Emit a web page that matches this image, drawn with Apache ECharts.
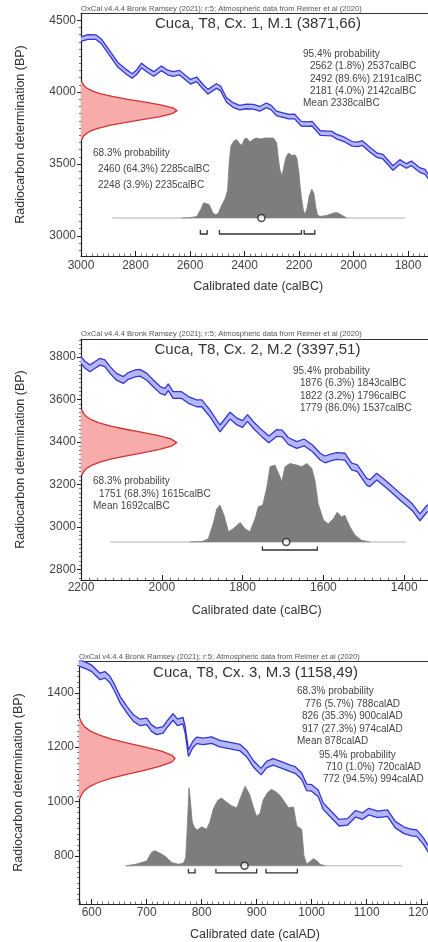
<!DOCTYPE html>
<html><head><meta charset="utf-8">
<script src="https://cdn.jsdelivr.net/npm/echarts@6/dist/echarts.min.js"></script>
<style>html,body{margin:0;padding:0;background:#fff;overflow:hidden}#c{width:470px;height:942px}</style>
</head><body><div id="c"></div>
<script>
// ===================== DATA =====================
// ---- Panel 1 : Cuca, T8, Cx. 1, M.1 (3871,66) — years calBC ----
const title1 = 'Cuca, T8, Cx. 1, M.1 (3871,66)';
const xTicks1 = [3000, 2800, 2600, 2400, 2200, 2000, 1800];
const yTicks1 = [3000, 3500, 4000, 4500];
const curve1Years = [3000, 2975, 2945, 2925, 2895, 2865, 2835, 2812, 2795, 2778, 2755, 2733, 2705, 2682, 2662, 2638, 2614, 2598, 2576, 2552, 2534, 2503, 2488, 2466, 2442, 2418, 2393, 2368, 2344, 2320, 2302, 2283, 2259, 2237, 2216, 2192, 2168, 2152, 2122, 2098, 2080, 2062, 2035, 2005, 1985, 1968, 1940, 1915, 1892, 1855, 1830, 1806, 1787, 1757, 1738, 1725, 1700];
const curve1BP = [4368, 4383, 4382, 4352, 4272, 4190, 4142, 4112, 4140, 4185, 4152, 4126, 4165, 4136, 4126, 4135, 4096, 4072, 4089, 4037, 4003, 4042, 4026, 3945, 3910, 3892, 3900, 3898, 3884, 3908, 3892, 3852, 3840, 3829, 3830, 3780, 3777, 3780, 3715, 3713, 3712, 3690, 3672, 3640, 3636, 3646, 3600, 3562, 3551, 3472, 3514, 3486, 3504, 3458, 3446, 3412, 3380];
const curve1Sigma = 16;
const radio1BP = [4070, 4050, 4030, 4010, 3990, 3970, 3950, 3930, 3910, 3890, 3871, 3850, 3830, 3810, 3790, 3770, 3750, 3730, 3710, 3690, 3670];
const radio1Dens = [0.011, 0.025, 0.055, 0.109, 0.197, 0.325, 0.489, 0.670, 0.840, 0.959, 1.000, 0.951, 0.825, 0.652, 0.471, 0.310, 0.186, 0.102, 0.051, 0.023, 0.010];
const post1Years = [2630, 2600, 2575, 2560, 2550, 2543, 2530, 2515, 2505, 2496, 2485, 2470, 2462, 2456, 2450, 2440, 2429, 2418, 2410, 2400, 2392, 2380, 2374, 2365, 2355, 2345, 2337, 2325, 2310, 2294, 2288, 2282, 2276, 2270, 2262, 2258, 2250, 2245, 2238, 2233, 2225, 2215, 2208, 2200, 2196, 2190, 2184, 2178, 2170, 2162, 2153, 2145, 2138, 2132, 2123, 2100, 2075, 2062, 2050, 2035, 2025];
const post1Prob = [0, 0.4, 1.9, 11, 19, 21, 17, 6, 4, 6, 15, 25, 35, 69, 90, 96, 98, 93, 91, 99, 100, 95, 94, 99, 100, 99, 99, 100, 100, 100, 98, 94, 75, 60, 53, 53, 73, 78, 81, 83, 78, 79, 75, 56, 40, 23, 10, 4, 13, 28, 36, 30, 13, 4, 2, 3, 6, 7, 5, 2, 0];
const post1Span = [2886, 1811];
const ranges1 = [[2562, 2537], [2492, 2191], [2181, 2142]];
const mean1 = 2338;
const info1Right = ['95.4% probability', '2562 (1.8%) 2537calBC', '2492 (89.6%) 2191calBC', '2181 (4.0%) 2142calBC', 'Mean 2338calBC'];
const info1Left = ['68.3% probability', '2460 (64.3%) 2285calBC', '2248 (3.9%) 2235calBC'];

// ---- Panel 2 : Cuca, T8, Cx. 2, M.2 (3397,51) — years calBC ----
const title2 = 'Cuca, T8, Cx. 2, M.2 (3397,51)';
const xTicks2 = [2200, 2000, 1800, 1600, 1400];
const yTicks2 = [2800, 3000, 3200, 3400, 3600, 3800];
const curve2Years = [2200, 2190, 2178, 2165, 2153, 2141, 2128, 2112, 2095, 2083, 2066, 2054, 2037, 2021, 2004, 1992, 1984, 1972, 1951, 1934, 1914, 1901, 1881, 1856, 1831, 1813, 1800, 1788, 1772, 1752, 1735, 1716, 1702, 1687, 1666, 1648, 1627, 1608, 1596, 1580, 1567, 1547, 1530, 1516, 1493, 1485, 1468, 1443, 1410, 1381, 1361, 1344, 1330];
const curve2BP = [3786, 3763, 3747, 3763, 3778, 3771, 3739, 3707, 3692, 3711, 3723, 3726, 3707, 3676, 3645, 3637, 3658, 3621, 3621, 3598, 3582, 3582, 3535, 3464, 3524, 3495, 3485, 3513, 3477, 3440, 3412, 3442, 3440, 3405, 3386, 3398, 3370, 3331, 3318, 3328, 3334, 3331, 3285, 3276, 3213, 3206, 3237, 3198, 3142, 3095, 3045, 3085, 3100];
const curve2Sigma = 16;
const radio2BP = [3550, 3535, 3520, 3505, 3490, 3475, 3460, 3445, 3430, 3415, 3397, 3380, 3365, 3350, 3335, 3320, 3305, 3290, 3275, 3260, 3245];
const radio2Dens = [0.011, 0.026, 0.055, 0.106, 0.190, 0.311, 0.466, 0.642, 0.811, 0.940, 1.000, 0.946, 0.821, 0.654, 0.478, 0.320, 0.197, 0.111, 0.057, 0.027, 0.012];
const post2Years = [1930, 1900, 1885, 1873, 1864, 1856, 1846, 1835, 1823, 1806, 1794, 1782, 1769, 1761, 1750, 1740, 1732, 1720, 1709, 1703, 1695, 1683, 1666, 1654, 1641, 1629, 1621, 1613, 1600, 1588, 1575, 1566, 1555, 1547, 1534, 1522, 1505, 1485];
const post2Prob = [0, 0.5, 4, 23, 42, 47, 34, 13, 17, 25, 17, 13, 30, 45, 47, 70, 96, 98, 85, 77, 96, 100, 98, 96, 100, 94, 79, 49, 28, 23, 30, 38, 32, 34, 19, 9, 2, 0];
const post2Span = [2128, 1396];
const ranges2 = [[1751, 1615]];
const mean2 = 1692;
const info2Right = ['95.4% probability', '1876 (6.3%) 1843calBC', '1822 (3.2%) 1796calBC', '1779 (86.0%) 1537calBC'];
const info2Left = ['68.3% probability', '1751 (68.3%) 1615calBC', 'Mean 1692calBC'];

// ---- Panel 3 : Cuca, T8, Cx. 3, M.3 (1158,49) — years calAD ----
const title3 = 'Cuca, T8, Cx. 3, M.3 (1158,49)';
const xTicks3 = [600, 700, 800, 900, 1000, 1100, 1200];
const yTicks3 = [800, 1000, 1200, 1400];
const curve3Years = [577, 591, 600, 609, 615, 624, 633, 642, 652, 664, 676, 688, 700, 709, 718, 730, 739, 748, 756, 766, 770, 776, 784, 791, 803, 818, 833, 852, 870, 882, 894, 908, 918, 930, 946, 961, 970, 982, 991, 1000, 1012, 1021, 1039, 1050, 1065, 1080, 1092, 1104, 1120, 1138, 1152, 1168, 1182, 1191, 1203, 1212, 1217];
const curve3BP = [1510, 1499, 1490, 1472, 1460, 1466, 1450, 1417, 1374, 1338, 1307, 1291, 1295, 1270, 1258, 1264, 1289, 1311, 1291, 1298, 1264, 1178, 1210, 1225, 1221, 1226, 1213, 1206, 1198, 1176, 1139, 1110, 1136, 1146, 1134, 1122, 1116, 1093, 1052, 1050, 1030, 983, 945, 922, 925, 955, 946, 963, 953, 957, 915, 894, 886, 884, 855, 826, 815];
const curve3Sigma = 12;
const radio3BP = [1305, 1290, 1275, 1260, 1245, 1230, 1215, 1200, 1185, 1170, 1158, 1145, 1130, 1115, 1100, 1085, 1070, 1055, 1040, 1025, 1011];
const radio3Dens = [0.011, 0.027, 0.058, 0.115, 0.207, 0.340, 0.508, 0.693, 0.859, 0.970, 1.000, 0.965, 0.849, 0.680, 0.496, 0.330, 0.199, 0.110, 0.055, 0.025, 0.011];
const post3Years = [662, 680, 700, 709, 715, 724, 733, 746, 758, 767, 771, 774, 777, 779, 783, 787, 792, 800, 809, 815, 821, 829, 836, 845, 855, 864, 872, 879, 887, 894, 900, 906, 912, 920, 927, 935, 943, 950, 958, 967, 973, 982, 986, 991, 1003, 1010, 1015, 1024];
const post3Prob = [0, 2, 6, 17, 19, 16, 12.5, 4, 2, 3.5, 10, 50, 98, 85, 55, 48, 45, 49, 46, 55, 71, 82, 85, 80, 75, 73, 88, 100, 90, 74, 62, 66, 83, 92, 96, 93, 88, 81, 73, 74, 50, 46, 13, 2, 9, 6, 2, 0];
const post3Span = [662, 1164];
const ranges3 = [[776, 788], [826, 900], [917, 974]];
const mean3 = 878;
const info3Right = ['68.3% probability', '776 (5.7%) 788calAD', '826 (35.3%) 900calAD', '917 (27.3%) 974calAD', 'Mean 878calAD', '95.4% probability', '710 (1.0%) 720calAD', '772 (94.5%) 994calAD'];

const header = 'OxCal v4.4.4 Bronk Ramsey (2021); r:5; Atmospheric data from Reimer et al (2020)';

// ===================== LAYOUT / STYLE =====================
const FONT = '"Liberation Sans", Arial, Helvetica, sans-serif';
const panels = [
  { era: 'BC', title: title1, xTicks: xTicks1, yTicks: yTicks1, cy: curve1Years, cb: curve1BP, sig: curve1Sigma,
    rb: radio1BP, rd: radio1Dens, py: post1Years, pp: post1Prob, span: post1Span, ranges: ranges1, mean: mean1,
    grid: { left: 81, top: 13, width: 354.25, height: 243 }, xMin: -3000, xMax: -1700, xInt: 200,
    yMin: 2860, yMax: 4550, yInt: 500, pMin: -47.5, pMax: 256.3, dMax: 3.69, brY: -20, brT: -15,
    xLabMargin: 4, titleX: 258, titleY: 24, headY: 9,
    right: { lines: info1Right, x: [303, 310, 310, 310, 303], y: [54, 66.5, 79, 91, 103.3] },
    left: { lines: info1Left, x: [93, 98, 98], y: [153.5, 169, 185] } },
  { era: 'BC', title: title2, xTicks: xTicks2, yTicks: yTicks2, cy: curve2Years, cb: curve2BP, sig: curve2Sigma,
    rb: radio2BP, rd: radio2Dens, py: post2Years, pp: post2Prob, span: post2Span, ranges: ranges2, mean: mean2,
    grid: { left: 81, top: 339, width: 351.5, height: 241 }, xMin: -2200, xMax: -1330, xInt: 200,
    yMin: 2750, yMax: 3885, yInt: 200, pMin: -48.4, pMax: 258.6, dMax: 3.673, brY: -10.2, brT: -5.8,
    xLabMargin: 2, titleX: 257.5, titleY: 350, headY: 334,
    right: { lines: info2Right, x: [293, 300, 300, 300], y: [371, 383.3, 396, 408.3] },
    left: { lines: info2Left, x: [93, 99, 93], y: [481.5, 494, 506] } },
  { era: 'AD', title: title3, xTicks: xTicks3, yTicks: yTicks3, cy: curve3Years, cb: curve3BP, sig: curve3Sigma,
    rb: radio3BP, rd: radio3Dens, py: post3Years, pp: post3Prob, span: post3Span, ranges: ranges3, mean: mean3,
    grid: { left: 79, top: 661, width: 352, height: 244 }, xMin: 577, xMax: 1217, xInt: 100,
    yMin: 623, yMax: 1517, yInt: 200, pMin: -47.9, pMax: 257.1, dMax: 3.667, brY: -8.8, brT: -3.6,
    xLabMargin: 3, titleX: 255.5, titleY: 673.3, headY: 656.5,
    right: { lines: info3Right, x: [297, 305, 302, 302, 297, 319, 326, 323], y: [691.7, 704, 716.7, 729.3, 741.7, 755, 767.3, 779.3] },
    left: null }
];

const grids = [], xAxes = [], yAxes = [], series = [], graphics = [];
const AX = '#222';

panels.forEach((p, i) => {
  const toX = p.era === 'BC' ? (v => -v) : (v => v);
  grids.push(Object.assign({ containLabel: false }, p.grid));
  const xMain = xAxes.length, xDen = xMain + 1, yMain = yAxes.length, yPost = yMain + 1;
  xAxes.push({
    gridIndex: i, type: 'value', position: 'bottom', min: p.xMin, max: p.xMax,
    minInterval: p.xInt, maxInterval: p.xInt,
    axisLine: { show: true, onZero: false, lineStyle: { color: AX, width: 1.2 } },
    axisTick: { show: true, inside: true, length: 5, lineStyle: { color: AX, width: 1 }, customValues: p.xTicks.map(toX) },
    minorTick: { show: true, splitNumber: 10, length: 2.5, lineStyle: { color: '#555', width: 0.8 } },
    axisLabel: { customValues: p.xTicks.map(toX), formatter: v => String(Math.abs(v)), fontSize: 12, color: '#444', fontFamily: FONT, margin: p.xLabMargin },
    splitLine: { show: false },
    name: 'Calibrated date (cal' + p.era + ')', nameLocation: 'middle', nameGap: 24,
    nameTextStyle: { fontSize: 12.5, color: '#333', fontFamily: FONT }
  });
  xAxes.push({
    gridIndex: i, type: 'value', position: 'top', min: 0, max: p.dMax,
    axisLine: { show: true, onZero: false, lineStyle: { color: '#333', width: 1 } },
    axisTick: { show: false }, axisLabel: { show: false }, splitLine: { show: false }
  });
  yAxes.push({
    gridIndex: i, type: 'value', position: 'left', min: p.yMin, max: p.yMax,
    minInterval: p.yInt, maxInterval: p.yInt,
    axisLine: { show: true, onZero: false, lineStyle: { color: AX, width: 1.2 } },
    axisTick: { show: true, inside: false, length: 4, lineStyle: { color: AX, width: 1 }, customValues: p.yTicks },
    minorTick: { show: true, splitNumber: 10, length: 2, lineStyle: { color: '#555', width: 0.8 } },
    axisLabel: { customValues: p.yTicks, formatter: v => String(v), fontSize: 12, color: '#444', fontFamily: FONT, margin: 5 },
    splitLine: { show: false },
    name: 'Radiocarbon determination (BP)', nameLocation: 'middle', nameGap: 54,
    nameTextStyle: { fontSize: 12.5, color: '#333', fontFamily: FONT }
  });
  yAxes.push({ gridIndex: i, type: 'value', min: p.pMin, max: p.pMax, show: false });

  // calibration curve band (fill)
  series.push({
    type: 'custom', xAxisIndex: xMain, yAxisIndex: yMain, clip: true, silent: true, z: 2,
    data: [[toX(p.cy[0]), p.cb[0]]],
    renderItem: (params, api) => {
      const up = p.cy.map((y, k) => api.coord([toX(y), p.cb[k] + p.sig]));
      const lo = p.cy.map((y, k) => api.coord([toX(y), p.cb[k] - p.sig])).reverse();
      return { type: 'polygon', shape: { points: up.concat(lo) }, style: { fill: '#b4b7f6', stroke: null } };
    }
  });
  // band edges
  [1, -1].forEach(s => {
    series.push({
      type: 'line', xAxisIndex: xMain, yAxisIndex: yMain, symbol: 'none', silent: true, z: 3,
      data: p.cy.map((y, k) => [toX(y), p.cb[k] + s * p.sig]),
      lineStyle: { color: '#3535d0', width: 1.3 }
    });
  });
  // radiocarbon determination (red normal on the y axis)
  series.push({
    type: 'custom', xAxisIndex: xDen, yAxisIndex: yMain, silent: true, z: 4,
    data: [[0, p.rb[0]]],
    renderItem: (params, api) => {
      const pts = p.rb.map((b, k) => api.coord([p.rd[k], b]));
      const a = api.coord([0, p.rb[0]]), b = api.coord([0, p.rb[p.rb.length - 1]]);
      return { type: 'group', children: [
        { type: 'polygon', shape: { points: [a].concat(pts, [b]) }, style: { fill: '#f8abab', stroke: null } },
        { type: 'polyline', shape: { points: pts }, style: { stroke: '#cf3535', lineWidth: 1.3, fill: null } }
      ] };
    }
  });
  // baseline of the posterior
  series.push({
    type: 'line', xAxisIndex: xMain, yAxisIndex: yPost, symbol: 'none', silent: true, z: 4,
    data: [[toX(p.span[0]), 0], [toX(p.span[1]), 0]],
    lineStyle: { color: '#9a9a9a', width: 0.8 }
  });
  // calibrated posterior (grey)
  series.push({
    type: 'line', xAxisIndex: xMain, yAxisIndex: yPost, symbol: 'none', silent: true, z: 5,
    data: p.py.map((y, k) => [toX(y), p.pp[k]]),
    lineStyle: { color: '#7d7d7d', width: 0.8 },
    areaStyle: { color: '#7d7d7d', opacity: 1 }
  });
  // range brackets
  series.push({
    type: 'custom', xAxisIndex: xMain, yAxisIndex: yPost, silent: true, z: 6,
    data: [[toX(p.ranges[0][0]), p.brY]],
    renderItem: (params, api) => ({
      type: 'group',
      children: p.ranges.map(r => ({
        type: 'polyline',
        shape: { points: [api.coord([toX(r[0]), p.brT]), api.coord([toX(r[0]), p.brY]), api.coord([toX(r[1]), p.brY]), api.coord([toX(r[1]), p.brT])] },
        style: { stroke: '#333', lineWidth: 1.3, fill: null }
      }))
    })
  });
  // mean marker
  series.push({
    type: 'scatter', xAxisIndex: xMain, yAxisIndex: yPost, silent: true, z: 7,
    data: [[toX(p.mean), 0]], symbol: 'circle', symbolSize: 7,
    itemStyle: { color: '#fff', borderColor: '#222', borderWidth: 1.5 }
  });

  // texts
  graphics.push({ type: 'text', x: p.grid.left, y: p.headY, silent: true,
    style: { text: header, fontSize: 7.6, fontFamily: FONT, fill: '#555', verticalAlign: 'middle' } });
  graphics.push({ type: 'text', x: p.titleX, y: p.titleY, silent: true,
    style: { text: p.title, fontSize: 15, fontFamily: FONT, fill: '#333', align: 'center', verticalAlign: 'middle' } });
  [p.right, p.left].forEach(blk => {
    if (!blk) return;
    blk.lines.forEach((t, k) => graphics.push({ type: 'text', x: blk.x[k], y: blk.y[k], silent: true,
      style: { text: t, fontSize: 10, fontFamily: FONT, fill: '#444', verticalAlign: 'middle' } }));
  });
});

const chart = echarts.init(document.getElementById('c'));
chart.setOption({
  animation: false,
  backgroundColor: '#fff',
  grid: grids, xAxis: xAxes, yAxis: yAxes, series: series, graphic: graphics
});
</script></body></html>
